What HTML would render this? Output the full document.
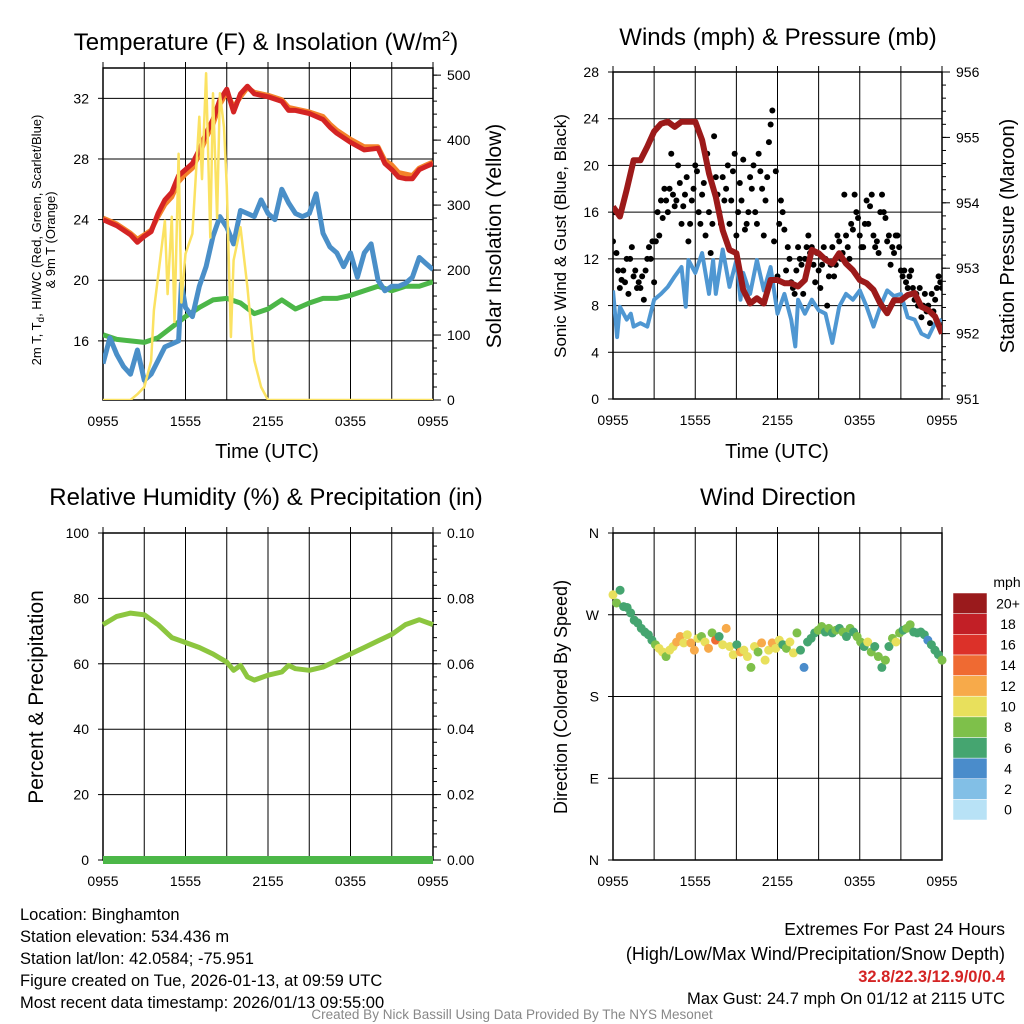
<!DOCTYPE html>
<html><head><meta charset="utf-8"><style>
html,body{margin:0;padding:0;background:#fff;}
svg{display:block;font-family:"Liberation Sans",sans-serif;}
</style></head><body>
<svg id="chart" width="1024" height="1024" viewBox="0 0 1024 1024"></svg>
<script>
// ---------- DATA ----------
const xTickLabels = ["0955","1555","2155","0355","0955"];
const xTickHours = [0,6,12,18,24];
const tempHours = [0,1,2,2.5,3,3.5,4,4.5,5,5.5,6,6.5,7,7.5,8,8.5,9,9.5,10,10.5,11,11.5,12,13,13.5,14,15,16,16.5,17,18,19,20,20.5,21,21.5,22,22.5,23,23.5,24];
const tempRed = [24.0,23.6,23.0,22.5,22.9,23.2,24.4,25.3,25.8,26.9,27.3,27.7,28.6,29.7,30.6,31.9,32.6,31.1,32.3,32.8,32.3,32.2,32.1,31.8,31.2,31.2,31.0,30.6,30.1,29.7,29.1,28.6,28.7,27.7,27.3,26.8,26.7,26.7,27.3,27.5,27.7];
const temp9m = [24.1,23.7,23.1,22.7,23.0,23.3,24.2,25.0,25.5,26.5,27.0,27.4,28.3,29.4,30.3,31.6,32.4,31.4,32.1,32.7,32.4,32.3,32.2,31.9,31.4,31.3,31.1,30.8,30.3,29.9,29.3,28.8,28.8,27.9,27.6,27.1,27.0,26.9,27.4,27.6,27.8];
const wcHours = [0,0.5,1,1.5,2,2.5,3,3.5,4,4.5,5,5.5,5.7,6,6.5,7,7.5,8,8.5,9,9.5,10,10.5,11,11.5,12,12.5,13,13.5,14,14.5,15,15.5,16,16.5,17,17.5,18,18.5,19,19.5,20,20.5,21,21.5,22,22.5,23,23.5,24];
const windChill = [14.5,16.2,15.1,14.3,13.8,15.4,13.4,13.8,14.7,15.6,15.8,16.0,19.8,18.2,17.6,19.6,20.9,22.9,24.2,23.5,22.4,24.6,24.4,24.2,25.3,24.4,24.0,26.0,25.1,24.4,24.2,24.4,25.7,23.1,22.2,21.8,20.9,21.8,20.2,21.8,22.4,20.0,19.3,19.6,19.6,19.8,20.2,21.5,21.1,20.7];
const dewHours = [0,1,2,3,4,5,6,7,8,9,10,11,12,13,14,15,16,17,18,19,20,21,22,23,24];
const dewPoint = [16.4,16.1,16.0,15.9,16.2,16.9,17.6,18.2,18.7,18.8,18.5,17.8,18.1,18.7,18.1,18.5,18.8,18.8,19.0,19.3,19.6,19.3,19.6,19.6,19.9];
const solarHours = [0,2,2.5,3,3.5,3.7,4,4.5,4.7,5,5.2,5.5,5.7,6,6.5,7,7.2,7.5,7.8,8,8.3,8.5,8.8,9,9.3,9.5,10,10.5,11,11.5,12,24];
const solar = [0,0,9,20,60,138,189,276,163,282,120,379,150,225,256,436,340,503,250,472,280,472,420,328,97,215,266,174,61,20,0,0];
const presHours = [0,0.5,1,1.5,2,2.5,3,3.5,4,4.5,5,5.5,6,6.5,7,7.5,8,8.5,9,9.5,10,10.5,11,11.5,12,12.5,13,13.5,14,14.5,15,15.5,16,16.5,17,17.5,18,18.5,19,19.5,20,20.5,21,21.5,22,22.5,23,23.5,24];
const pressure = [953.94,953.79,954.20,954.65,954.65,954.86,955.09,955.21,955.24,955.16,955.24,955.24,955.24,954.96,954.45,954.09,953.58,953.28,953.23,952.67,952.46,952.54,952.46,952.82,952.82,952.77,952.77,952.72,952.82,953.28,953.23,953.13,953.07,953.23,953.07,952.97,952.82,952.77,952.67,952.46,952.31,952.51,952.51,952.59,952.62,952.41,952.36,952.26,952.00];
const windHours = [0,0.3,0.5,1,1.3,1.5,2,2.5,3,3.5,4,4.5,5,5.3,5.5,6,6.5,7,7.3,7.5,8,8.5,9,9.3,9.5,10,10.5,11,11.5,12,12.5,13,13.3,13.5,14,14.5,15,15.5,16,16.5,17,17.5,18,18.5,19,19.5,20,20.5,21,21.5,22,22.5,23,23.5,24];
const windSpeed = [9.3,5.3,7.9,6.8,7.3,6.2,6.5,6.2,8.5,9.0,9.6,10.5,11.3,7.9,11.9,10.8,12.5,9.0,11.9,9.0,12.8,9.6,11.9,8.5,10.8,9.0,11.9,9.3,11.3,7.3,9.0,6.8,4.5,8.5,7.3,8.5,7.6,7.3,4.8,7.9,9.0,8.5,9.3,7.9,6.2,7.9,9.3,8.8,9.0,7.0,6.8,5.6,5.3,6.5,6.8];
const gusts = [13.5,16,12.5,11,9.5,10.2,11,10, 12,9,12,13,10.5,11,9.5,10, 9.5,10.5,8.5,11,12,13,12,13.5, 10,13.5,16,14,17,15.5,18,17,
 16,18,21,17.5,16.5,17,20,18.5, 15,16.5,17.5,19,13.5,15,17,18, 20,19.5,16,15,17.5,18.5,14,21, 16,12.5,15,22.5,19,17.5,16,15,
 19,17,18,20,15,17,19.5,21, 14,16,18.5,17,20.5,14.5,15,16, 19,18,20,16,15,21,19.5,18, 14,17,19,22,23.5,24.7,13.5,19.5,
 10.5,15,17,16,14.5,11,13,12, 10,9.5,9,11,13,12,11.5,9, 12,13,14,12.5,13,11.5,10,12.5, 11,9.5,11.5,13,12,8,10.5,11.5,
 13,10.5,11.5,14,13.5,12,12.5,17.5, 14,13,12,15,14.5,17.5,16,15.5, 14,13,13,15,17,15,16.5,17.5, 14,13,13.5,12.5,16,17.5,16,15.5,
 13.5,14,11.5,13,12.5,14,14,13, 11,10.5,11,10,9.5,10.5,11,9.5, 8.5,9,8,9.5,7,8,9,7.5, 8,6.5,9,7.5,8.5,9.5,10.5,10,9.5];
const rhHours = [0,1,2,3,4,5,6,7,8,9,9.5,10,10.5,11,12,13,13.5,14,15,16,17,18,19,20,21,22,23,24];
const rh = [72,74.5,75.5,75,72,68,66.5,65,63,60.5,58,59.5,56,55,56.5,57.5,59.5,58.5,58,59,61,63,65,67,69,72,73.5,72];
const precipHours = [0,24];
const precip = [0,0];
const dirDeg = [292,283,297,279,278,272,264,261,255,251,248,242,237,233,229,224,231,235,240,246,239,248,239,231,244,246,240,233,250,242,246,237,255,235,226,237,229,231,224,212,235,229,239,220,231,239,233,242,237,233,240,228,250,231,212,240,244,250,253,257,251,255,250,253,255,251,246,255,251,246,240,235,240,229,235,224,212,220,235,244,240,250,253,255,259,251,250,251,248,242,237,231,226,220];
const dirSpeed = [10,7,6,6,6,6,6,6,6,6,6,6,7,9,10,7,9,10,11,12,9,10,11,12,9,8,10,11,8,13,6,10,12,9,10,6,12,10,9,8,10,8,12,10,9,12,10,10,6,8,10,10,8,6,4,6,6,6,8,7,6,8,6,8,6,7,6,8,6,8,7,6,10,7,6,7,6,8,6,8,10,7,6,8,7,6,6,6,5,4,6,6,6,7];
const speedBins = ["0","2","4","6","8","10","12","14","16","18","20+"];
const speedColors = ["#b8e2f6","#82bfe6","#4a8ccb","#45a570","#7ec04a","#e8e05c","#f7aa4a","#ef6a32","#dc3129","#c21f26","#9a1a1c"];
const dirLabels = ["N","E","S","W","N"];
const dirValues = [0,90,180,270,360];

// ---------- HELPERS ----------
const NS="http://www.w3.org/2000/svg";
const svg=document.getElementById('chart');
function mk(tag,attrs,parent){const e=document.createElementNS(NS,tag);for(const k in attrs)e.setAttribute(k,attrs[k]);(parent||svg).appendChild(e);return e;}
function txt(s,x,y,size,anchor,parent,extra){const e=mk('text',Object.assign({x:x,y:y,'font-size':size,'text-anchor':anchor||'middle',fill:'#000'},extra||{}),parent);e.textContent=s;return e;}
function lin(d0,d1,r0,r1){return v=>r0+(v-d0)*(r1-r0)/(d1-d0);}
function pathFrom(xs,ys,fx,fy){return xs.map((t,i)=>(i?'L':'M')+fx(t).toFixed(1)+','+fy(ys[i]).toFixed(1)).join('');}

function panel(name,x0,x1,y0,y1,leftTicks,fyL,rightTicks,fyR,rightMinor,leftFmt,rightFmt){
  const g=mk('g',{},svg);
  
  
  const fx=lin(0,24,x0,x1);
  for(let h=3;h<24;h+=3){mk('line',{x1:fx(h),x2:fx(h),y1:y0,y2:y1,stroke:'#000','stroke-width':1},g);}
  leftTicks.forEach(v=>{const y=fyL(v);if(y>y0+1&&y<y1-1)mk('line',{x1:x0,x2:x1,y1:y,y2:y,stroke:'#000','stroke-width':1},g);});
  mk('rect',{x:x0,y:y0,width:x1-x0,height:y1-y0,fill:'none',stroke:'#000','stroke-width':1.5},g);
  for(let h=0;h<=24;h+=3){mk('line',{x1:fx(h),x2:fx(h),y1:y0-6,y2:y0,stroke:'#000'},g);}
  xTickHours.forEach((h,i)=>{const t=txt(xTickLabels[i],fx(h),y1+26,14,'middle',g);});
  leftTicks.forEach(v=>{const y=fyL(v);mk('line',{x1:x0-5,x2:x0,y1:y,y2:y,stroke:'#000'},g);const t=txt(leftFmt(v),x0-14,y+5,14,'end',g);});
  rightMinor.forEach(v=>{const y=fyR(v);mk('line',{x1:x1,x2:x1+4,y1:y,y2:y,stroke:'#000'},g);});
  rightTicks.forEach(v=>{const y=fyR(v);mk('line',{x1:x1,x2:x1+8,y1:y,y2:y,stroke:'#000'},g);const t=txt(rightFmt(v),x1+14,y+5,14,'start',g);});
  return {g,fx};
}
function range(a,b,s){const r=[];for(let v=a;v<=b+1e-9;v+=s)r.push(+v.toFixed(4));return r;}

// ---------- PANEL 1 ----------
{
  const x0=103,x1=433,y0=68,y1=400;
  const fyL=lin(12.1,34.0,y1,y0), fyR=lin(0,511,y1,y0);
  const p=panel('temperature-panel',x0,x1,y0,y1,[16,20,24,28,32],fyL,[0,100,200,300,400,500],fyR,range(0,500,20),v=>v,v=>v);
  const cl=mk('clipPath',{id:'c1'},svg);mk('rect',{x:x0,y:y0,width:x1-x0,height:y1-y0},cl);
  const g=mk('g',{'clip-path':'url(#c1)'},p.g);
  let e;
  e=mk('path',{d:pathFrom(dewHours,dewPoint,p.fx,fyL),fill:'none',stroke:'#4cb748','stroke-width':5,'stroke-linejoin':'round'},g);
  
  e=mk('path',{d:pathFrom(wcHours,windChill,p.fx,fyL),fill:'none',stroke:'#4a8fc8','stroke-width':5,'stroke-linejoin':'round'},g);
  
  e=mk('path',{d:pathFrom(tempHours,temp9m,p.fx,fyL),fill:'none',stroke:'#f4822a','stroke-width':5,'stroke-linejoin':'round'},g);
  
  e=mk('path',{d:pathFrom(tempHours,tempRed,p.fx,fyL),fill:'none',stroke:'#d42424','stroke-width':5,'stroke-linejoin':'round'},g);
  
  e=mk('path',{d:pathFrom(solarHours,solar,p.fx,fyR),fill:'none',stroke:'#fbe262','stroke-width':2.5,'stroke-linejoin':'round'},g);
  
  e=txt('',266,50,24,'middle');e.innerHTML='Temperature (F) &amp; Insolation (W/m<tspan dy="-9" font-size="15">2</tspan><tspan dy="9">)</tspan>';
  
  e=txt('Time (UTC)',267,458,20);
  e=txt('Solar Insolation (Yellow)',0,0,21,'middle',svg,{transform:'translate(501,236) rotate(-90)'});
  e=txt('',0,0,13,'middle',svg,{transform:'translate(41,240) rotate(-90)'});e.innerHTML='2m T, T<tspan dy="3" font-size="10">d</tspan><tspan dy="-3">, HI/WC (Red, Green, Scarlet/Blue)</tspan>';
  
  e=txt('& 9m T (Orange)',0,0,13,'middle',svg,{transform:'translate(55,240) rotate(-90)'});
}
// ---------- PANEL 2 ----------
{
  const x0=613,x1=942,y0=72,y1=399;
  const fyL=lin(0,28,y1,y0), fyR=lin(951,956,y1,y0);
  const p=panel('winds-panel',x0,x1,y0,y1,[0,4,8,12,16,20,24,28],fyL,[951,952,953,954,955,956],fyR,range(951,956,0.2),v=>v,v=>v);
  const cl=mk('clipPath',{id:'c2'},svg);mk('rect',{x:x0,y:y0,width:x1-x0,height:y1-y0},cl);
  const g=mk('g',{'clip-path':'url(#c2)'},p.g);
  let e=mk('path',{d:pathFrom(windHours,windSpeed,p.fx,fyL),fill:'none',stroke:'#4f97d2','stroke-width':4,'stroke-linejoin':'round'},g);
  
  gusts.forEach((v,i)=>{const c=mk('circle',{cx:p.fx(i*24/(gusts.length-1)),cy:fyL(v),r:3,fill:'#000'},g);
    });
  e=mk('path',{d:pathFrom(presHours,pressure,p.fx,fyR),fill:'none',stroke:'#9c1a1a','stroke-width':6,'stroke-linejoin':'round'},g);
  
  e=txt('Winds (mph) & Pressure (mb)',778,45,24);
  e=txt('Time (UTC)',777,458,20);
  e=txt('Sonic Wind & Gust (Blue, Black)',0,0,17,'middle',svg,{transform:'translate(566,236) rotate(-90)'});
  e=txt('Station Pressure (Maroon)',0,0,20,'middle',svg,{transform:'translate(1014,236) rotate(-90)'});
}
// ---------- PANEL 3 ----------
{
  const x0=103,x1=433,y0=533,y1=860;
  const fyL=lin(0,100,y1,y0), fyR=lin(0,0.1,y1,y0);
  const p=panel('humidity-panel',x0,x1,y0,y1,[0,20,40,60,80,100],fyL,[0,0.02,0.04,0.06,0.08,0.1],fyR,range(0,0.1,0.004),v=>v,v=>v.toFixed(2));
  let e=mk('path',{d:pathFrom(precipHours,precip,p.fx,fyR),fill:'none',stroke:'#4cb748','stroke-width':8},p.g);
  
  e=mk('path',{d:pathFrom(rhHours,rh,p.fx,fyL),fill:'none',stroke:'#8cc63f','stroke-width':5,'stroke-linejoin':'round'},p.g);
  
  e=txt('Relative Humidity (%) & Precipitation (in)',266,505,24);
  e=txt('Percent & Precipitation',0,0,21,'middle',svg,{transform:'translate(43,697) rotate(-90)'});
}
// ---------- PANEL 4 ----------
{
  const x0=613,x1=942,y0=533,y1=860;
  const fy=lin(0,360,y1,y0);
  const p=panel('wind-direction-panel',x0,x1,y0,y1,dirValues,fy,[],fy,[],(v)=>dirLabels[dirValues.indexOf(v)],v=>v);
  dirDeg.forEach((d,i)=>{const b=Math.min(10,Math.round(dirSpeed[i]/2));
    const c=mk('circle',{cx:p.fx(i*24/(dirDeg.length-1)),cy:fy(d),r:4.5,fill:speedColors[b]},p.g);
    });
  let e=txt('Wind Direction',778,505,24);
  e=txt('Direction (Colored By Speed)',0,0,18,'middle',svg,{transform:'translate(567,697) rotate(-90)'});
  const lg=mk('g',{},svg);
  e=txt('mph',1007,587,14,'middle',lg);
  const bh=(820-593)/11;
  speedBins.forEach((s,i)=>{const y=820-(i+1)*bh;
    const r=mk('rect',{x:953,y:y,width:34,height:bh,fill:speedColors[i],stroke:'#fff','stroke-width':0.5},lg);
    
    const t=txt(s,1008,y+bh/2+5,14,'middle',lg);});
}
// ---------- FOOTER TEXT ----------
{
  const info=["Location: Binghamton","Station elevation: 534.436 m","Station lat/lon: 42.0584; -75.951","Figure created on Tue, 2026-01-13, at 09:59 UTC","Most recent data timestamp: 2026/01/13 09:55:00"];
  info.forEach((s,i)=>{const t=txt(s,20,920+i*22,16.5,'start');});
  let e=txt('Extremes For Past 24 Hours',1005,935,17.5,'end');
  e=txt('(High/Low/Max Wind/Precipitation/Snow Depth)',1005,960,18,'end');
  e=txt('32.8/22.3/12.9/0/0.4',1005,982,16.5,'end',svg,{fill:'#d42424','font-weight':'bold'});
  e=txt('Max Gust: 24.7 mph On 01/12 at 2115 UTC',1005,1004,16.5,'end');
  e=txt('Created By Nick Bassill Using Data Provided By The NYS Mesonet',512,1019,13.5,'middle',svg,{fill:'#888'});
}
</script>
</body></html>
